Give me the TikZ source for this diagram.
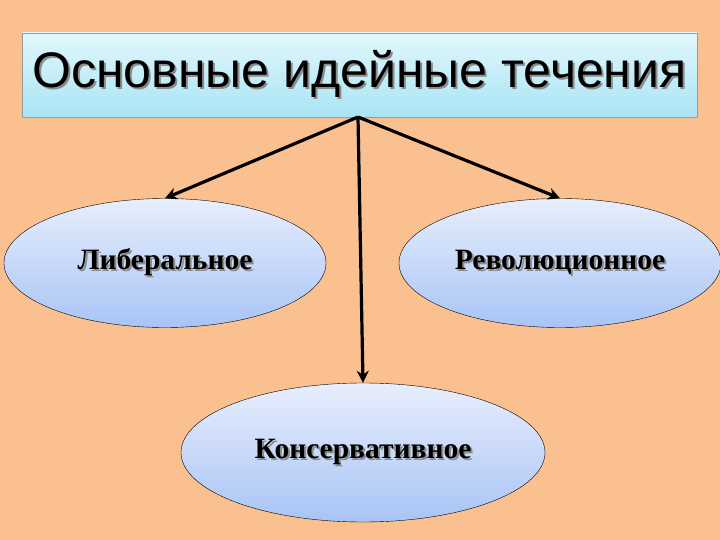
\documentclass[tikz,border=0pt]{standalone}
\usepackage{fontspec}
\setmainfont{Liberation Serif}
\newfontfamily\titlefont{Liberation Sans}
\usetikzlibrary{positioning,arrows.meta,shapes.geometric}
\definecolor{peach}{RGB}{250,192,143}
\definecolor{boxtop}{RGB}{226,247,252}
\definecolor{boxbot}{RGB}{168,228,245}
\definecolor{elltop}{RGB}{232,238,252}
\definecolor{ellbot}{RGB}{168,196,246}
\newcommand{\shadowed}[1]{%
	\makebox[0pt][l]{\hspace{2pt}\raisebox{-2pt}{\color{black!45}#1}}#1%
}
\newcommand{\current}[3]{
	\node [oval,minimum width=#3] at (#1) (#2)
}
\tikzset{
	oval/.style={ellipse,draw=black,thin,top color=elltop,bottom color=ellbot,
		font=\fontsize{29.5}{32}\selectfont\bfseries,inner sep=0pt},
	link/.style={-{Stealth[length=12pt,width=12pt]},line width=3.2pt}
}
\begin{document}
\begin{tikzpicture}[x=1pt,y=-1pt]
	% Background
	\fill [peach] (0,0) rectangle (720,540);
	\useasboundingbox (0,0) rectangle (720,540);

	% Title
	\node [draw=black!40,thin,top color=boxtop,bottom color=boxbot,
		minimum width=675,minimum height=84,inner sep=0pt,
		font=\titlefont\fontsize{50}{56}\selectfont] at (359.5,75) (title)
		{\shadowed{Основные идейные течения}};

	% Currents
	\current {165,263}{lib}{322pt,minimum height=129pt} {\shadowed{Либеральное}};
	\current {560,263}{rev}{322pt,minimum height=129pt} {\shadowed{Революционное}};
	\current {363,452.5}{cons}{364pt,minimum height=139pt} {\shadowed{Консервативное}};

	% Arrows
	\coordinate (root) at (358,117);
	\draw [link] (root) -- (lib.north);
	\draw [link] (root) -- (rev.north);
	\draw [link] (root) -- (cons.north);
\end{tikzpicture}
\end{document}
